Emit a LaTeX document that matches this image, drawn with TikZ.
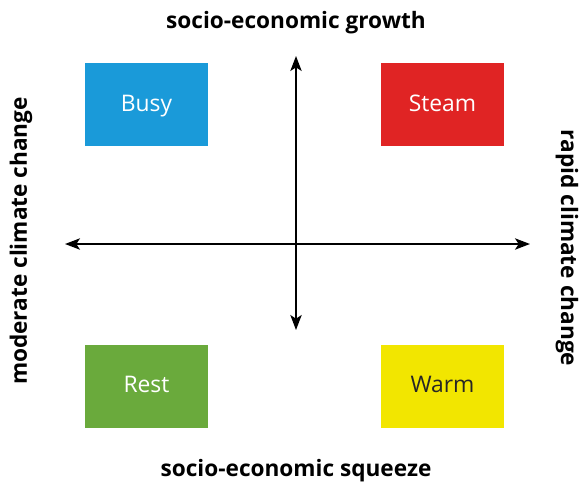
\documentclass[tikz,border=0pt]{standalone}
\usepackage{fontspec}
\setmainfont{Open Sans}
\usetikzlibrary{positioning, arrows.meta}
\definecolor{busyblue}{HTML}{1A9AD9}
\definecolor{steamred}{HTML}{E02424}
\definecolor{restgreen}{HTML}{6AAA3C}
\definecolor{warmyellow}{HTML}{F2E600}
\tikzset{
	quadrant/.style={
		rectangle,
		minimum width=3.69cm,
		minimum height=2.49cm,
		inner sep=0pt,
		text height=13pt,
		text depth=1.5pt,
		font=\fontsize{19.5}{22}\selectfont
	},
	axis/.style={line width=1.5pt, {Stealth[length=4.5mm, width=3.4mm, inset=1.1mm]}-{Stealth[length=4.5mm, width=3.4mm, inset=1.1mm]}},
	axislabel/.style={font=\fontsize{19.3}{22}\selectfont\bfseries}
}

\begin{document}
\begin{tikzpicture}[x=0.03cm, y=-0.03cm]
	\useasboundingbox (0,0) rectangle (581,491);
	\coordinate (centre) at (296,244);
	\coordinate (top) at (296,56);
	\coordinate (bottom) at (296,330);
	\coordinate (west) at (65,244);
	\coordinate (east) at (530,244);
	
	\node [quadrant, fill=busyblue, text=white] (busy) at (146.5,104.5) {Busy};
	\node [quadrant, fill=steamred, text=white] (steam) at (442.5,104.5) {Steam};
	\node [quadrant, fill=restgreen, text=white] (rest) at (146.5,386) {Rest};
	\node [quadrant, fill=warmyellow, text=black!85] (warm) at (442.5,386) {Warm};
	
	\draw [axis] (bottom) -- (top);
	\draw [axis] (west) -- (east);
	
	\node [axislabel] (growth) at (296,23) {socio-economic growth};
	\node [axislabel] (squeeze) at (296,471) {socio-economic squeeze};
	\node [axislabel, rotate=90] (moderate) at (21,241) {moderate climate change};
	\node [axislabel, rotate=-90] (rapid) at (567,248) {rapid climate change};
\end{tikzpicture}
\end{document}
